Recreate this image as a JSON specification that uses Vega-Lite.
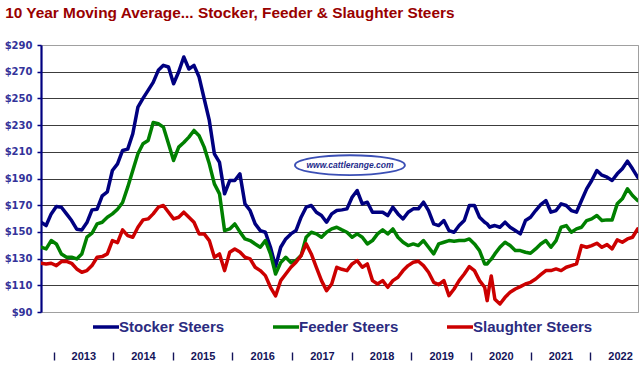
{
  "$schema": "https://vega.github.io/schema/vega-lite/v6.json",
  "width": 597,
  "height": 267,
  "autosize": "none",
  "padding": {"left": 41, "top": 45, "right": 6, "bottom": 53},
  "background": "white",
  "title": {
    "text": "10 Year Moving Average... Stocker, Feeder & Slaughter Steers",
    "anchor": "start",
    "dx": 1,
    "offset": 19,
    "font": "Liberation Sans",
    "fontSize": 15.4,
    "fontWeight": "bold",
    "color": "#990000"
  },
  "config": {"view": {"stroke": "#a0a0a0", "strokeWidth": 1}},
  "datasets": {
    "prices": [
      {"d": 2012.790, "Stocker Steers": 157.25, "Feeder Steers": 138.5, "Slaughter Steers": 126.5},
      {"d": 2012.876, "Stocker Steers": 154.75, "Feeder Steers": 137.25, "Slaughter Steers": 126},
      {"d": 2012.961, "Stocker Steers": 163.5, "Feeder Steers": 143.5, "Slaughter Steers": 126.5},
      {"d": 2013.047, "Stocker Steers": 169, "Feeder Steers": 141, "Slaughter Steers": 124.75},
      {"d": 2013.132, "Stocker Steers": 168.5, "Feeder Steers": 133.5, "Slaughter Steers": 127.75},
      {"d": 2013.218, "Stocker Steers": 163.5, "Feeder Steers": 131, "Slaughter Steers": 128},
      {"d": 2013.303, "Stocker Steers": 158.5, "Feeder Steers": 131, "Slaughter Steers": 126.5},
      {"d": 2013.389, "Stocker Steers": 152, "Feeder Steers": 129.75, "Slaughter Steers": 122.25},
      {"d": 2013.474, "Stocker Steers": 151.5, "Feeder Steers": 133.5, "Slaughter Steers": 119.75},
      {"d": 2013.560, "Stocker Steers": 157, "Feeder Steers": 146, "Slaughter Steers": 121},
      {"d": 2013.645, "Stocker Steers": 166.5, "Feeder Steers": 149, "Slaughter Steers": 124.75},
      {"d": 2013.731, "Stocker Steers": 167, "Feeder Steers": 156, "Slaughter Steers": 131},
      {"d": 2013.816, "Stocker Steers": 177, "Feeder Steers": 157.25, "Slaughter Steers": 131.5},
      {"d": 2013.902, "Stocker Steers": 180, "Feeder Steers": 161, "Slaughter Steers": 133.5},
      {"d": 2013.987, "Stocker Steers": 196, "Feeder Steers": 163.5, "Slaughter Steers": 143.5},
      {"d": 2014.073, "Stocker Steers": 201, "Feeder Steers": 167, "Slaughter Steers": 142},
      {"d": 2014.158, "Stocker Steers": 211, "Feeder Steers": 172, "Slaughter Steers": 151.5},
      {"d": 2014.244, "Stocker Steers": 212, "Feeder Steers": 183.5, "Slaughter Steers": 147.25},
      {"d": 2014.329, "Stocker Steers": 223.5, "Feeder Steers": 196, "Slaughter Steers": 146},
      {"d": 2014.415, "Stocker Steers": 243.5, "Feeder Steers": 208.5, "Slaughter Steers": 153.5},
      {"d": 2014.500, "Stocker Steers": 250, "Feeder Steers": 216, "Slaughter Steers": 159},
      {"d": 2014.586, "Stocker Steers": 256, "Feeder Steers": 218.5, "Slaughter Steers": 159.75},
      {"d": 2014.671, "Stocker Steers": 262, "Feeder Steers": 232, "Slaughter Steers": 163.5},
      {"d": 2014.757, "Stocker Steers": 271, "Feeder Steers": 231, "Slaughter Steers": 168.5},
      {"d": 2014.842, "Stocker Steers": 274.75, "Feeder Steers": 228.5, "Slaughter Steers": 169.75},
      {"d": 2014.928, "Stocker Steers": 273.5, "Feeder Steers": 216, "Slaughter Steers": 164.75},
      {"d": 2015.013, "Stocker Steers": 261, "Feeder Steers": 203.5, "Slaughter Steers": 159.75},
      {"d": 2015.099, "Stocker Steers": 270, "Feeder Steers": 213.5, "Slaughter Steers": 161},
      {"d": 2015.184, "Stocker Steers": 281, "Feeder Steers": 217, "Slaughter Steers": 164.75},
      {"d": 2015.270, "Stocker Steers": 272, "Feeder Steers": 221, "Slaughter Steers": 161},
      {"d": 2015.355, "Stocker Steers": 274.75, "Feeder Steers": 226, "Slaughter Steers": 157.25},
      {"d": 2015.441, "Stocker Steers": 266, "Feeder Steers": 222, "Slaughter Steers": 148.5},
      {"d": 2015.526, "Stocker Steers": 249.75, "Feeder Steers": 213.5, "Slaughter Steers": 148.5},
      {"d": 2015.612, "Stocker Steers": 233.5, "Feeder Steers": 201, "Slaughter Steers": 143.5},
      {"d": 2015.697, "Stocker Steers": 208.5, "Feeder Steers": 186, "Slaughter Steers": 131},
      {"d": 2015.783, "Stocker Steers": 202, "Feeder Steers": 178.5, "Slaughter Steers": 133.5},
      {"d": 2015.868, "Stocker Steers": 178.5, "Feeder Steers": 151, "Slaughter Steers": 121},
      {"d": 2015.954, "Stocker Steers": 188.5, "Feeder Steers": 152.25, "Slaughter Steers": 134.75},
      {"d": 2016.039, "Stocker Steers": 188.5, "Feeder Steers": 156, "Slaughter Steers": 137.25},
      {"d": 2016.125, "Stocker Steers": 193.5, "Feeder Steers": 150, "Slaughter Steers": 135},
      {"d": 2016.210, "Stocker Steers": 171, "Feeder Steers": 144.75, "Slaughter Steers": 131},
      {"d": 2016.296, "Stocker Steers": 166, "Feeder Steers": 143.5, "Slaughter Steers": 129.75},
      {"d": 2016.381, "Stocker Steers": 156, "Feeder Steers": 141, "Slaughter Steers": 123.5},
      {"d": 2016.467, "Stocker Steers": 151, "Feeder Steers": 138.5, "Slaughter Steers": 121},
      {"d": 2016.552, "Stocker Steers": 149.75, "Feeder Steers": 143.5, "Slaughter Steers": 117.25},
      {"d": 2016.638, "Stocker Steers": 138.5, "Feeder Steers": 133.5, "Slaughter Steers": 108.5},
      {"d": 2016.723, "Stocker Steers": 124, "Feeder Steers": 118.5, "Slaughter Steers": 102},
      {"d": 2016.809, "Stocker Steers": 138.5, "Feeder Steers": 127, "Slaughter Steers": 113.5},
      {"d": 2016.894, "Stocker Steers": 144.75, "Feeder Steers": 131, "Slaughter Steers": 118.5},
      {"d": 2016.980, "Stocker Steers": 148.5, "Feeder Steers": 127, "Slaughter Steers": 123.5},
      {"d": 2017.065, "Stocker Steers": 151, "Feeder Steers": 128.5, "Slaughter Steers": 127.25},
      {"d": 2017.151, "Stocker Steers": 161, "Feeder Steers": 132.25, "Slaughter Steers": 132.25},
      {"d": 2017.236, "Stocker Steers": 168.5, "Feeder Steers": 146, "Slaughter Steers": 141},
      {"d": 2017.322, "Stocker Steers": 169.75, "Feeder Steers": 149.75, "Slaughter Steers": 133.5},
      {"d": 2017.407, "Stocker Steers": 164.75, "Feeder Steers": 148.5, "Slaughter Steers": 123.5},
      {"d": 2017.493, "Stocker Steers": 162.25, "Feeder Steers": 146, "Slaughter Steers": 113.5},
      {"d": 2017.578, "Stocker Steers": 157.25, "Feeder Steers": 149.75, "Slaughter Steers": 106},
      {"d": 2017.664, "Stocker Steers": 163.5, "Feeder Steers": 152.25, "Slaughter Steers": 111},
      {"d": 2017.749, "Stocker Steers": 166, "Feeder Steers": 153.5, "Slaughter Steers": 123.5},
      {"d": 2017.835, "Stocker Steers": 166.5, "Feeder Steers": 151.5, "Slaughter Steers": 122},
      {"d": 2017.920, "Stocker Steers": 167.25, "Feeder Steers": 149.75, "Slaughter Steers": 121},
      {"d": 2018.006, "Stocker Steers": 176, "Feeder Steers": 146, "Slaughter Steers": 126},
      {"d": 2018.091, "Stocker Steers": 181, "Feeder Steers": 148.5, "Slaughter Steers": 128.5},
      {"d": 2018.177, "Stocker Steers": 171, "Feeder Steers": 146, "Slaughter Steers": 123.5},
      {"d": 2018.262, "Stocker Steers": 172.25, "Feeder Steers": 141, "Slaughter Steers": 126},
      {"d": 2018.348, "Stocker Steers": 164.75, "Feeder Steers": 143.5, "Slaughter Steers": 113.5},
      {"d": 2018.433, "Stocker Steers": 164.75, "Feeder Steers": 148.5, "Slaughter Steers": 111},
      {"d": 2018.519, "Stocker Steers": 164.75, "Feeder Steers": 151.5, "Slaughter Steers": 113.5},
      {"d": 2018.604, "Stocker Steers": 162.25, "Feeder Steers": 148.5, "Slaughter Steers": 108.5},
      {"d": 2018.690, "Stocker Steers": 168.5, "Feeder Steers": 152.25, "Slaughter Steers": 113.5},
      {"d": 2018.775, "Stocker Steers": 163.5, "Feeder Steers": 146, "Slaughter Steers": 116},
      {"d": 2018.861, "Stocker Steers": 159.75, "Feeder Steers": 142.25, "Slaughter Steers": 121},
      {"d": 2018.946, "Stocker Steers": 164.75, "Feeder Steers": 139.75, "Slaughter Steers": 124.75},
      {"d": 2019.032, "Stocker Steers": 167.25, "Feeder Steers": 141, "Slaughter Steers": 127.25},
      {"d": 2019.117, "Stocker Steers": 167.25, "Feeder Steers": 139.75, "Slaughter Steers": 128},
      {"d": 2019.203, "Stocker Steers": 172.25, "Feeder Steers": 143.5, "Slaughter Steers": 124.75},
      {"d": 2019.288, "Stocker Steers": 166, "Feeder Steers": 138.5, "Slaughter Steers": 119.75},
      {"d": 2019.374, "Stocker Steers": 156, "Feeder Steers": 133.5, "Slaughter Steers": 112.25},
      {"d": 2019.459, "Stocker Steers": 154.75, "Feeder Steers": 141, "Slaughter Steers": 110.5},
      {"d": 2019.545, "Stocker Steers": 158.5, "Feeder Steers": 142.25, "Slaughter Steers": 113.5},
      {"d": 2019.630, "Stocker Steers": 151, "Feeder Steers": 143.5, "Slaughter Steers": 102.25},
      {"d": 2019.716, "Stocker Steers": 149.75, "Feeder Steers": 143, "Slaughter Steers": 107.25},
      {"d": 2019.801, "Stocker Steers": 154.75, "Feeder Steers": 143.5, "Slaughter Steers": 113.5},
      {"d": 2019.887, "Stocker Steers": 158.5, "Feeder Steers": 143.5, "Slaughter Steers": 118.5},
      {"d": 2019.972, "Stocker Steers": 169.75, "Feeder Steers": 144.75, "Slaughter Steers": 124},
      {"d": 2020.058, "Stocker Steers": 169.75, "Feeder Steers": 141, "Slaughter Steers": 121},
      {"d": 2020.143, "Stocker Steers": 161, "Feeder Steers": 136, "Slaughter Steers": 113.5},
      {"d": 2020.229, "Stocker Steers": 157.25, "Feeder Steers": 126, "Slaughter Steers": 108.5},
      {"d": 2020.271, "Stocker Steers": 156, "Feeder Steers": 126, "Slaughter Steers": 98.5},
      {"d": 2020.314, "Stocker Steers": 153.5, "Feeder Steers": 128.5, "Slaughter Steers": 111},
      {"d": 2020.340, "Stocker Steers": 154, "Feeder Steers": 129.5, "Slaughter Steers": 117},
      {"d": 2020.400, "Stocker Steers": 154.75, "Feeder Steers": 133.5, "Slaughter Steers": 99.5},
      {"d": 2020.485, "Stocker Steers": 153.5, "Feeder Steers": 138.5, "Slaughter Steers": 96},
      {"d": 2020.571, "Stocker Steers": 157.25, "Feeder Steers": 142.25, "Slaughter Steers": 101},
      {"d": 2020.656, "Stocker Steers": 153.5, "Feeder Steers": 139.75, "Slaughter Steers": 104.75},
      {"d": 2020.742, "Stocker Steers": 151, "Feeder Steers": 136, "Slaughter Steers": 107.25},
      {"d": 2020.827, "Stocker Steers": 148.5, "Feeder Steers": 136, "Slaughter Steers": 109},
      {"d": 2020.913, "Stocker Steers": 158.5, "Feeder Steers": 134.75, "Slaughter Steers": 111},
      {"d": 2020.998, "Stocker Steers": 161, "Feeder Steers": 134, "Slaughter Steers": 112.25},
      {"d": 2021.084, "Stocker Steers": 166, "Feeder Steers": 137.25, "Slaughter Steers": 114.75},
      {"d": 2021.169, "Stocker Steers": 170.5, "Feeder Steers": 141, "Slaughter Steers": 118},
      {"d": 2021.255, "Stocker Steers": 173.5, "Feeder Steers": 143.5, "Slaughter Steers": 121},
      {"d": 2021.340, "Stocker Steers": 164.75, "Feeder Steers": 138.5, "Slaughter Steers": 121},
      {"d": 2021.426, "Stocker Steers": 166, "Feeder Steers": 143.5, "Slaughter Steers": 122.25},
      {"d": 2021.511, "Stocker Steers": 171, "Feeder Steers": 153.5, "Slaughter Steers": 121},
      {"d": 2021.597, "Stocker Steers": 169.75, "Feeder Steers": 154.75, "Slaughter Steers": 123.5},
      {"d": 2021.682, "Stocker Steers": 166, "Feeder Steers": 149.75, "Slaughter Steers": 124.75},
      {"d": 2021.768, "Stocker Steers": 164.75, "Feeder Steers": 152.25, "Slaughter Steers": 126},
      {"d": 2021.853, "Stocker Steers": 173.5, "Feeder Steers": 153.5, "Slaughter Steers": 139.75},
      {"d": 2021.939, "Stocker Steers": 182.25, "Feeder Steers": 158.5, "Slaughter Steers": 138.5},
      {"d": 2022.024, "Stocker Steers": 188.5, "Feeder Steers": 159.75, "Slaughter Steers": 139.75},
      {"d": 2022.110, "Stocker Steers": 196, "Feeder Steers": 162.25, "Slaughter Steers": 141.5},
      {"d": 2022.195, "Stocker Steers": 192.5, "Feeder Steers": 158.5, "Slaughter Steers": 138.5},
      {"d": 2022.281, "Stocker Steers": 191, "Feeder Steers": 159, "Slaughter Steers": 140.5},
      {"d": 2022.366, "Stocker Steers": 188.5, "Feeder Steers": 159, "Slaughter Steers": 137.25},
      {"d": 2022.452, "Stocker Steers": 193.5, "Feeder Steers": 171, "Slaughter Steers": 144},
      {"d": 2022.537, "Stocker Steers": 197.25, "Feeder Steers": 174.75, "Slaughter Steers": 142.25},
      {"d": 2022.623, "Stocker Steers": 203, "Feeder Steers": 182.25, "Slaughter Steers": 144.75},
      {"d": 2022.708, "Stocker Steers": 197.25, "Feeder Steers": 177.25, "Slaughter Steers": 146},
      {"d": 2022.794, "Stocker Steers": 191, "Feeder Steers": 173.5, "Slaughter Steers": 152.25}
    ]
  },
  "layer": [
    {
      "data": {"name": "prices"},
      "transform": [
        {"fold": ["Stocker Steers", "Feeder Steers", "Slaughter Steers"], "as": ["series", "price"]}
      ],
      "mark": {"type": "line", "strokeWidth": 3.5, "strokeJoin": "round", "strokeCap": "round", "clip": true},
      "encoding": {
        "x": {
          "field": "d",
          "type": "quantitative",
          "scale": {"domain": [2012.79, 2022.8], "nice": false, "zero": false},
          "axis": {
            "values": [2013, 2014, 2015, 2016, 2017, 2018, 2019, 2020, 2021, 2022],
            "tickCount": 30,
            "format": "d",
            "title": null,
            "domain": false,
            "grid": false,
            "offset": 40,
            "tickSize": 8,
            "tickWidth": 1.4,
            "tickColor": "#14145a",
            "labelOffset": 29.8,
            "labelPadding": -3.5,
            "labelBaseline": "middle",
            "labelFont": "Liberation Sans",
            "labelFontSize": 11,
            "labelFontWeight": "bold",
            "labelColor": "#14145a",
            "labelFlush": false,
            "labelOverlap": false,
            "labelBound": false
          }
        },
        "y": {
          "field": "price",
          "type": "quantitative",
          "scale": {"domain": [90, 290], "nice": false, "zero": false},
          "axis": {
            "values": [90, 110, 130, 150, 170, 190, 210, 230, 250, 270, 290],
            "tickCount": 30,
            "labelExpr": "'$' + datum.value",
            "title": null,
            "grid": true,
            "gridColor": {"condition": {"test": "datum.value === 90 || datum.value === 290", "value": "#a0a0a0"}, "value": "#3c3c3c"},
            "gridWidth": 1.1,
            "domainColor": "#000080",
            "domainWidth": 2.2,
            "tickColor": "#000080",
            "tickSize": 4,
            "tickWidth": 1.5,
            "labelFont": "DejaVu Sans",
            "labelFontSize": 10,
            "labelFontWeight": "bold",
            "labelColor": "#33339a",
            "labelPadding": 5,
            "labelOverlap": false,
            "labelFlush": false,
            "labelBound": false
          }
        },
        "color": {
          "field": "series",
          "type": "nominal",
          "scale": {
            "domain": ["Stocker Steers", "Feeder Steers", "Slaughter Steers"],
            "range": ["#000080", "#008000", "#cc0000"]
          },
          "legend": {
            "orient": "none",
            "legendX": 50,
            "legendY": 267,
            "direction": "horizontal",
            "columns": 3,
            "title": null,
            "symbolType": "stroke",
            "symbolSize": 676,
            "symbolStrokeWidth": 3.5,
            "labelOffset": -2,
            "columnPadding": 41,
            "labelFont": "Liberation Sans",
            "labelFontSize": 15,
            "labelFontWeight": "bold",
            "labelColor": "#2b2b80",
            "labelLimit": 0
          }
        }
      }
    },
    {
      "data": {"values": [{}]},
      "mark": {
        "type": "point",
        "shape": "M-1,0A1,0.18,0,1,1,1,0A1,0.18,0,1,1,-1,0Z",
        "size": 12100,
        "filled": true,
        "fill": "white",
        "stroke": "#3b4fb5",
        "strokeWidth": 1.8,
        "opacity": 1
      },
      "encoding": {
        "x": {"datum": 2017.97},
        "y": {"datum": 200}
      }
    },
    {
      "data": {"values": [{}]},
      "mark": {
        "type": "text",
        "text": "www.cattlerange.com",
        "font": "Liberation Sans",
        "fontSize": 8.5,
        "fontStyle": "italic",
        "fontWeight": "bold",
        "color": "#1c2a8a"
      },
      "encoding": {
        "x": {"datum": 2017.97},
        "y": {"datum": 200}
      }
    }
  ]
}
